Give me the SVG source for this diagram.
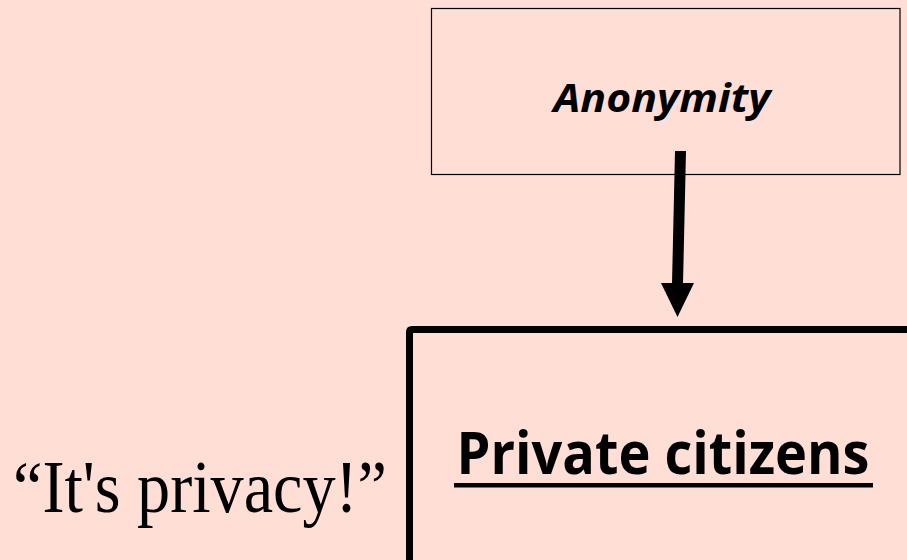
<svg xmlns="http://www.w3.org/2000/svg" width="907" height="560" viewBox="0 0 907 560">
  <style>
    .box1 { fill: none; stroke: #000; stroke-width: 1.2; }
    .box2 { fill: none; stroke: #000; stroke-width: 7; }
    .sans { font-family: "Open Sans", "Liberation Sans", sans-serif; fill: #000; }
    .serif { font-family: "Liberation Serif", "Times New Roman", serif; fill: #000; }
  </style>
  <rect width="907" height="560" fill="#FEDED5"/>
  <g id="anonymity">
    <rect class="box1" x="431.5" y="8.5" width="468.5" height="166"/>
    <text class="sans" x="662" y="112" font-size="40" font-weight="bold" font-style="italic" text-anchor="middle" textLength="217" lengthAdjust="spacingAndGlyphs">Anonymity</text>
  </g>
  <g id="private-citizens">
    <path class="box2" d="M409.5,600 V332 Q409.5,329.5 412,329.5 H920"/>
    <text class="sans" x="663" y="474" font-size="59" font-weight="bold" text-anchor="middle" textLength="413" lengthAdjust="spacingAndGlyphs">Private citizens</text>
    <rect x="454" y="483" width="419" height="4.5" fill="#000"/>
  </g>
  <g id="quote">
    <text class="serif" x="13" y="512" font-size="75" textLength="374" lengthAdjust="spacingAndGlyphs">“It's privacy!”</text>
  </g>
  <g id="connectors">
    <polygon points="675,151 686,151 683,284 672,284" fill="#000"/>
    <polygon points="661,283 694,283 677.5,317" fill="#000"/>
  </g>
</svg>
